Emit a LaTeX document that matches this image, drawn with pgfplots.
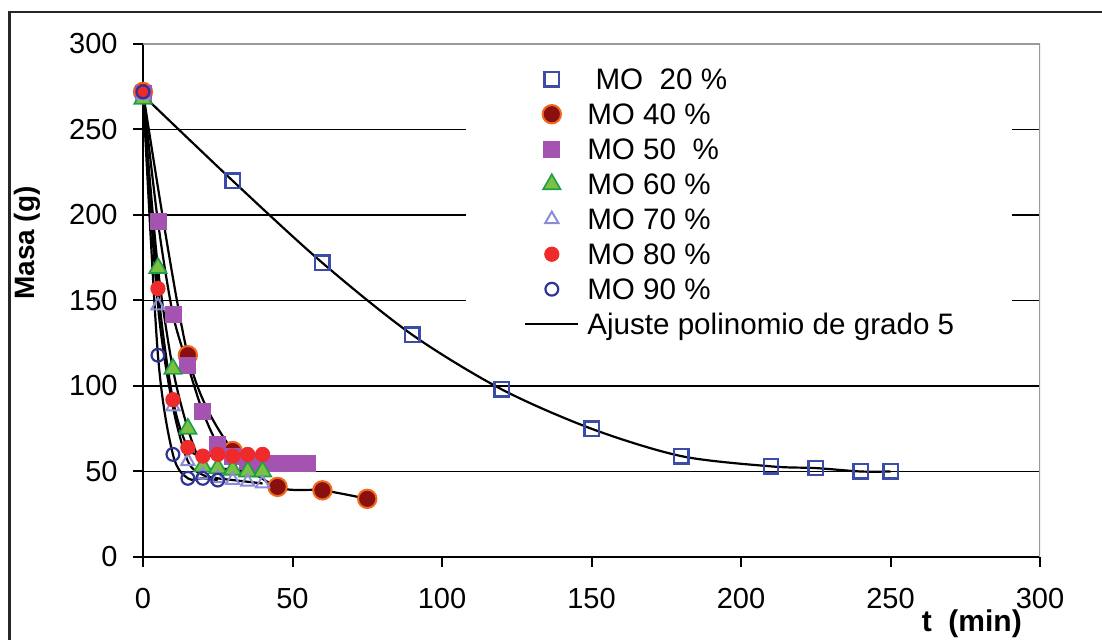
\documentclass[border=0pt]{standalone}
\usepackage{pgfplots}
\pgfplotsset{compat=1.18}
\usepackage{pgfplotstable}
\usepackage{fontspec}
\setmainfont{Liberation Sans}

\definecolor{cTwenty}{HTML}{3B4BA8}
\definecolor{cFortyF}{HTML}{8A1010}
\definecolor{cFortyD}{HTML}{F26A1B}
\definecolor{cFifty}{HTML}{A553B0}
\definecolor{cSixtyF}{HTML}{7CC242}
\definecolor{cSixtyD}{HTML}{1F9E4A}
\definecolor{cSeventy}{HTML}{8C8CD6}
\definecolor{cEighty}{HTML}{EE2A2A}
\definecolor{cNinety}{HTML}{2E3596}

\pgfplotstableread{
t m
0 270
30 220
60 172
90 130
120 98
150 75
180 59
210 53
225 52
240 50
250 50
}\moA
\pgfplotstableread{
t m
0 272
15 118
30 62
45 41
60 39
75 34
}\moB
\pgfplotstableread{
t m
0 271
5 196
10 142
15 112
20 85
25 66
30 59
35 56
40 55
45 55
50 55
55 55
}\moC
\pgfplotstableread{
t m
0 268
5 169
10 110
15 75
20 53
25 52
30 51
35 50
40 50
}\moD
\pgfplotstableread{
t m
0 270
5 147
10 88
15 56
20 48
25 46
30 45
35 44
40 43
}\moE
\pgfplotstableread{
t m
0 272
5 157
10 92
15 64
20 59
25 60
30 59
35 60
40 60
}\moF
\pgfplotstableread{
t m
0 272
5 118
10 60
15 46
20 46
25 45
}\moG

\begin{document}
\begin{tikzpicture}
\begin{axis}[
  at={(71.5pt,41.5pt)}, anchor=south west,
  scale only axis, width=448.5pt, height=256.5pt,
  xmin=0, xmax=300, ymin=0, ymax=300,
  axis lines=left, axis line style={-, line width=1pt, black},
  xtick={0,50,...,300}, ytick={0,50,...,300},
  tick align=outside, major tick length=5pt,
  tick style={line width=1pt, black},
  extra y ticks={50,100,150,200,250},
  extra y tick labels={},
  extra y tick style={grid=major, major tick length=0pt},
  grid style={line width=0.9pt, black},
  /pgf/number format/assume math mode=true,
  ticklabel style={font=\fontsize{14.5}{14.5}\selectfont},
  yticklabel style={inner sep=0pt, xshift=-7.5pt},
  xticklabel style={inner sep=0pt, yshift=-10.5pt},
  ylabel={Masa (g)},
  ylabel style={at={(axis description cs:-0.1288,0.612)}, anchor=center, font=\bfseries\fontsize{14}{14}\selectfont},
  xlabel={t\ \ (min)},
  xlabel style={at={(axis description cs:0.924,-0.146)}, anchor=base, font=\bfseries\fontsize{15}{15}\selectfont},
  legend style={at={(axis description cs:0.360,0.975)}, anchor=north west, draw=none, fill=white,
    inner xsep=29pt, inner ysep=4pt, row sep=3.5pt, column sep=4pt,
    font=\fontsize{14.8}{14.8}\selectfont,
    nodes={inner sep=0pt, text height=12pt, text depth=2pt}},
  legend cell align=left,
  legend image code/.code={\draw[mark repeat=2,mark phase=2,#1] plot coordinates {(0pt,0pt) (13.2pt,0pt) (26.4pt,0pt)};},
]
\addplot[only marks, mark=square, color=cTwenty, mark size=3.6pt, line width=1.2pt] table {\moA};
\addlegendentry{\ MO\ \ 20 \%}
\addplot[only marks, mark=*, mark size=4.6pt, line width=1pt, mark options={draw=cFortyD, fill=cFortyF}] table {\moB};
\addlegendentry{MO 40 \%}
\addplot[only marks, mark=square*, color=cFifty, mark size=4pt] table {\moC};
\addlegendentry{MO 50\ \ \%}
\addplot[only marks, mark=triangle*, mark size=5pt, line width=0.8pt, mark options={draw=cSixtyD, fill=cSixtyF}] table {\moD};
\addlegendentry{MO 60 \%}
\addplot[only marks, mark=triangle, color=cSeventy, mark size=3.8pt, line width=1pt] table {\moE};
\addlegendentry{MO 70 \%}
\addplot[only marks, mark=*, color=cEighty, mark size=3.6pt] table {\moF};
\addlegendentry{MO 80 \%}
\addplot[only marks, mark=o, color=cNinety, mark size=3.2pt, line width=1.1pt] table {\moG};
\addlegendentry{MO 90 \%}
\addplot[black, line width=1.1pt, smooth, no markers] table {\moA};
\addlegendentry{Ajuste polinomio de grado 5}
\addplot[black, line width=1.1pt, smooth, no markers, forget plot] table {\moB};
\addplot[black, line width=1.1pt, smooth, no markers, forget plot] table {\moC};
\addplot[black, line width=1.1pt, smooth, no markers, forget plot] table {\moD};
\addplot[black, line width=1.1pt, smooth, no markers, forget plot] table {\moE};
\addplot[black, line width=1.1pt, smooth, no markers, forget plot] table {\moF};
\addplot[black, line width=1.1pt, smooth, no markers, forget plot] table {\moG};
\draw[line width=1pt, color=black!40] (rel axis cs:0,1) -- (rel axis cs:1,1) -- (rel axis cs:1,0);
\end{axis}
\draw[line width=1.3pt, black!85] (4.75pt,-20pt) -- (4.75pt,314pt) -- (600pt,314pt);
\pgfresetboundingbox
\path[use as bounding box] (0pt,0pt) rectangle (551pt,320pt);
\end{tikzpicture}
\end{document}
